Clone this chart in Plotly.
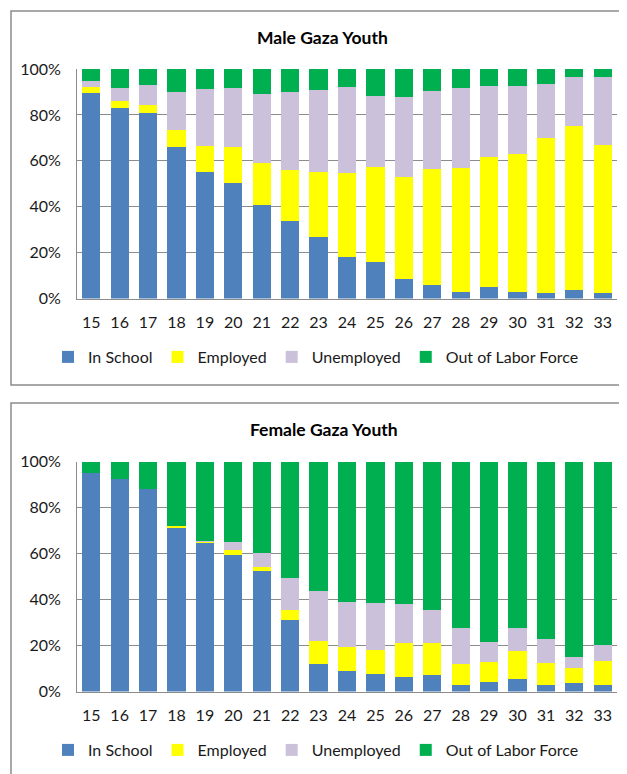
import plotly.graph_objects as go

ages = [str(a) for a in range(15, 34)]

male_school = [89.5, 82.9, 80.8, 65.9, 55.3, 50.5, 40.8, 33.8, 27.0, 18.3, 15.8, 8.6, 5.7, 3.0, 5.2, 3.0, 2.3, 3.8, 2.6]
male_employed = [2.5, 3.0, 3.7, 7.7, 11.0, 15.4, 18.3, 22.4, 28.0, 36.3, 41.4, 44.5, 50.8, 53.9, 56.3, 60.0, 67.7, 71.5, 64.3]
male_unemployed = [2.6, 5.7, 8.7, 16.2, 25.0, 25.7, 30.0, 33.9, 36.0, 37.4, 31.2, 34.9, 34.1, 34.7, 31.2, 29.7, 23.5, 21.1, 29.8]
male_olf = [5.4, 8.4, 6.8, 10.2, 8.7, 8.4, 10.9, 9.9, 9.0, 8.0, 11.6, 12.0, 9.4, 8.4, 7.3, 7.3, 6.5, 3.6, 3.3]

female_school = [94.8, 92.5, 88.1, 71.6, 65.0, 59.2, 52.2, 30.9, 12.0, 9.1, 7.5, 6.4, 7.1, 2.8, 4.2, 5.4, 2.8, 3.5, 2.8]
female_employed = [0.0, 0.0, 0.0, 0.5, 0.4, 2.2, 1.9, 4.4, 10.1, 10.2, 10.6, 14.9, 13.9, 9.1, 8.6, 12.3, 9.5, 6.7, 10.3]
female_unemployed = [0.0, 0.0, 0.0, 0.0, 0.2, 3.6, 6.1, 14.0, 21.7, 19.7, 20.2, 16.7, 14.6, 15.5, 8.8, 9.7, 10.5, 4.9, 7.1]
female_olf = [5.2, 7.5, 11.9, 27.9, 34.4, 35.0, 39.8, 50.7, 56.2, 61.0, 61.7, 62.0, 64.4, 72.6, 78.4, 72.6, 77.2, 84.9, 79.8]

series_names = ["In School", "Employed", "Unemployed", "Out of Labor Force"]
colors = ["#4F81BD", "#FFFF00", "#CCC1DA", "#00B050"]

# The page body has an 8px margin; lay out in page pixels and convert.
OFF = 8
W, H = 627 - OFF, 774 - OFF
FONT = "Lato"


def px_x(p):
    return (p - OFF) / W


def px_y(p):
    return 1 - (p - OFF) / H


fig = go.Figure()

male = [male_school, male_employed, male_unemployed, male_olf]
female = [female_school, female_employed, female_unemployed, female_olf]

for name, col, vals in zip(series_names, colors, male):
    fig.add_trace(go.Bar(x=ages, y=[v / 100 for v in vals], name=name,
                         marker=dict(color=col, line=dict(width=0)),
                         xaxis="x", yaxis="y", legend="legend"))
for name, col, vals in zip(series_names, colors, female):
    fig.add_trace(go.Bar(x=ages, y=[v / 100 for v in vals], name=name,
                         marker=dict(color=col, line=dict(width=0)),
                         xaxis="x2", yaxis="y2", legend="legend2"))

xdom = [px_x(77), px_x(617)]
axis_common = dict(showgrid=False, showline=True, linecolor="#8c8c8c", linewidth=1,
                   ticks="", tickfont=dict(family=FONT, size=16, color="#1a1a1a"),
                   ticklabelstandoff=9,
                   range=[-0.5, 18.5], type="category", fixedrange=True, automargin=False)
yaxis_common = dict(range=[0, 1], dtick=0.2, tickformat=".0%", showgrid=True,
                    gridcolor="#8c8c8c", gridwidth=1, showline=True, linecolor="#8c8c8c",
                    linewidth=1, zeroline=False, ticks="",
                    tickfont=dict(family=FONT, size=16, color="#1a1a1a"),
                    ticklabelstandoff=12, fixedrange=True, automargin=False)

legend_common = dict(orientation="h", xanchor="left", yanchor="middle",
                     font=dict(family=FONT, size=16, color="#1a1a1a"),
                     bgcolor="rgba(0,0,0,0)", itemwidth=30, traceorder="normal",
                     itemclick=False, itemdoubleclick=False)

fig.update_layout(
    width=W, height=H,
    margin=dict(l=0, r=0, t=0, b=0, pad=0, autoexpand=False),
    paper_bgcolor="white", plot_bgcolor="white",
    barmode="stack", bargap=0.36,
    xaxis=dict(domain=xdom, anchor="y", **axis_common),
    yaxis=dict(domain=[px_y(298.5), px_y(69)], anchor="x", **yaxis_common),
    xaxis2=dict(domain=xdom, anchor="y2", **axis_common),
    yaxis2=dict(domain=[px_y(691.5), px_y(461.5)], anchor="x2", **yaxis_common),
    legend=dict(x=px_x(48), y=px_y(357), **legend_common),
    legend2=dict(x=px_x(48), y=px_y(750), **legend_common),
    shapes=[
        dict(type="rect", xref="paper", yref="paper", x0=px_x(11), x1=px_x(660),
             y0=px_y(385), y1=px_y(11), line=dict(color="#8c8c8c", width=1.5), layer="below"),
        dict(type="rect", xref="paper", yref="paper", x0=px_x(11), x1=px_x(660),
             y0=px_y(800), y1=px_y(403), line=dict(color="#8c8c8c", width=1.5), layer="below"),
    ],
    annotations=[
        dict(text="<b>Male Gaza Youth</b>", xref="paper", yref="paper", x=px_x(322), y=px_y(37),
             showarrow=False, xanchor="center", yanchor="middle",
             font=dict(family=FONT, size=17.5, color="black")),
        dict(text="<b>Female Gaza Youth</b>", xref="paper", yref="paper", x=px_x(324), y=px_y(429),
             showarrow=False, xanchor="center", yanchor="middle",
             font=dict(family=FONT, size=17.5, color="black")),
    ],
)

fig.write_html("out.html")
